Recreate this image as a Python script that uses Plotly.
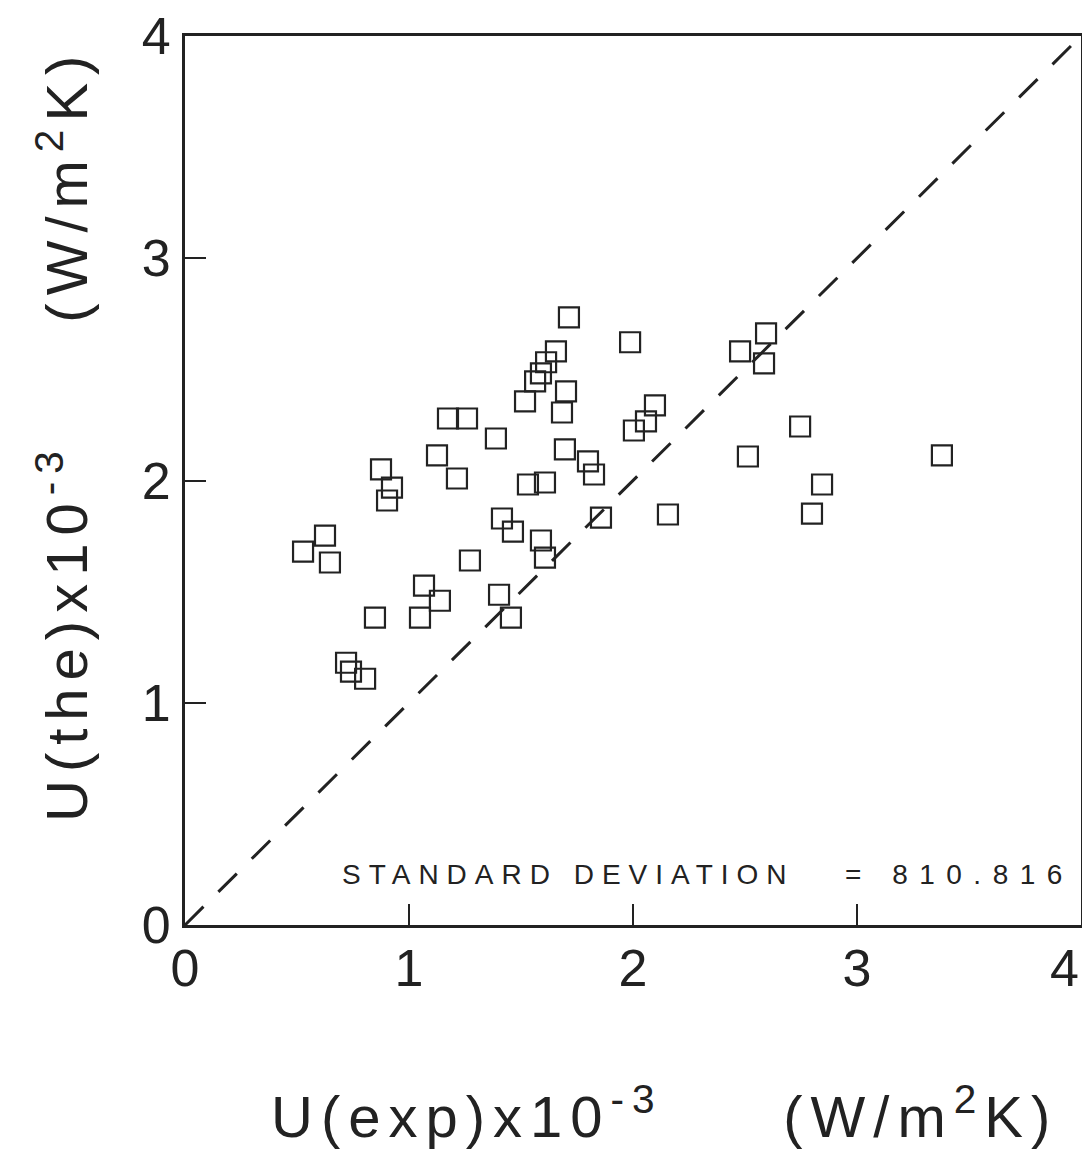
import plotly.graph_objects as go

# Data (units x10^-3 W/m^2K)
u_exp = [0.527, 0.625, 0.647, 0.719, 0.741, 0.804, 0.848, 0.875, 0.902, 0.924,
         1.049, 1.067, 1.138, 1.125, 1.174, 1.259, 1.214, 1.272, 1.388, 1.415,
         1.402, 1.464, 1.455, 1.518, 1.531, 1.563, 1.589, 1.612, 1.656, 1.714,
         1.701, 1.683, 1.696, 1.607, 1.589, 1.607, 1.799, 1.826, 1.857, 1.987,
         2.004, 2.058, 2.098, 2.156, 2.478, 2.594, 2.585, 2.513, 2.746, 2.799,
         2.844, 3.379]
u_the = [1.680, 1.752, 1.631, 1.180, 1.140, 1.108, 1.383, 2.050, 1.910, 1.968,
         1.383, 1.527, 1.459, 2.113, 2.279, 2.279, 2.009, 1.640, 2.189, 1.829,
         1.486, 1.770, 1.383, 2.356, 1.982, 2.446, 2.482, 2.532, 2.581, 2.734,
         2.401, 2.306, 2.140, 1.991, 1.730, 1.653, 2.086, 2.027, 1.833, 2.622,
         2.225, 2.266, 2.338, 1.847, 2.581, 2.662, 2.527, 2.108, 2.243, 1.851,
         1.982, 2.113]
diag = [0, 4]
tick_vals = [0, 1, 2, 3, 4]
tick_text = ["0", "1", "2", "3", "4"]
std_label = "STANDARD DEVIATION"
std_value = "= 810.816"

ink = "#222222"
font_family = "Liberation Sans, Arial, sans-serif"

fig = go.Figure()
fig.add_trace(go.Scatter(x=diag, y=diag, mode="lines",
                         line=dict(color=ink, width=3, dash="26px,21px"),
                         hoverinfo="skip", showlegend=False))
fig.add_trace(go.Scatter(x=u_exp, y=u_the, mode="markers",
                         marker=dict(symbol="square-open", size=20,
                                     line=dict(color=ink, width=2.2), color=ink),
                         showlegend=False))

axis_common = dict(range=[0, 4], tickvals=tick_vals,
                   showgrid=False, zeroline=False, showline=True, mirror=True,
                   linecolor=ink, linewidth=3, ticks="inside", ticklen=21,
                   tickwidth=2, tickcolor=ink, ticklabeloverflow="allow",
                   automargin=False,
                   tickfont=dict(family=font_family, size=52, color=ink))

# the last x label sits at the page edge; it is drawn as an annotation below
fig.update_xaxes(**axis_common, ticktext=tick_text[:-1] + [""], ticklabelstandoff=-4)
fig.update_yaxes(**axis_common, ticktext=tick_text, ticklabelstandoff=1)

fig.update_layout(
    width=1082, height=1149,
    margin=dict(l=185, r=1, t=36, b=224, autoexpand=False),
    plot_bgcolor="white", paper_bgcolor="white",
    font=dict(family=font_family, color=ink),
)

fig.add_annotation(
    text=tick_text[-1], xref="paper", yref="paper", x=1.0, y=-(968 - 925) / 889,
    xanchor="right", yanchor="middle", showarrow=False,
    font=dict(family=font_family, size=52, color=ink))

title_style = "letter-spacing:8px"
fig.add_annotation(
    text=f'<span style="{title_style}">U(exp)x10<sup>-3</sup>     (W/m<sup>2</sup>K)</span>',
    xref="paper", yref="paper", x=(664 - 185) / 896, y=-(1112 - 925) / 889,
    xanchor="center", yanchor="middle", showarrow=False,
    font=dict(family=font_family, size=58, color=ink))
fig.add_annotation(
    text=f'<span style="{title_style}">U(the)x10<sup>-3</sup>     (W/m<sup>2</sup>K)</span>',
    xref="paper", yref="paper", x=-(185 - 62) / 896, y=(925 - 435) / 889,
    xanchor="center", yanchor="middle", textangle=-90, showarrow=False,
    font=dict(family=font_family, size=58, color=ink))

fig.add_annotation(
    text=f'<span style="letter-spacing:8px">{std_label}</span>',
    xref="paper", yref="paper", x=(340 - 185) / 896, y=(925 - 874) / 889,
    xanchor="left", yanchor="middle", showarrow=False,
    font=dict(family=font_family, size=28, color=ink))
fig.add_annotation(
    text=f'<span style="letter-spacing:11.5px">{std_value}</span>',
    xref="paper", yref="paper", x=(843 - 185) / 896, y=(925 - 874) / 889,
    xanchor="left", yanchor="middle", showarrow=False,
    font=dict(family=font_family, size=28, color=ink))

fig.write_html("out.html")
